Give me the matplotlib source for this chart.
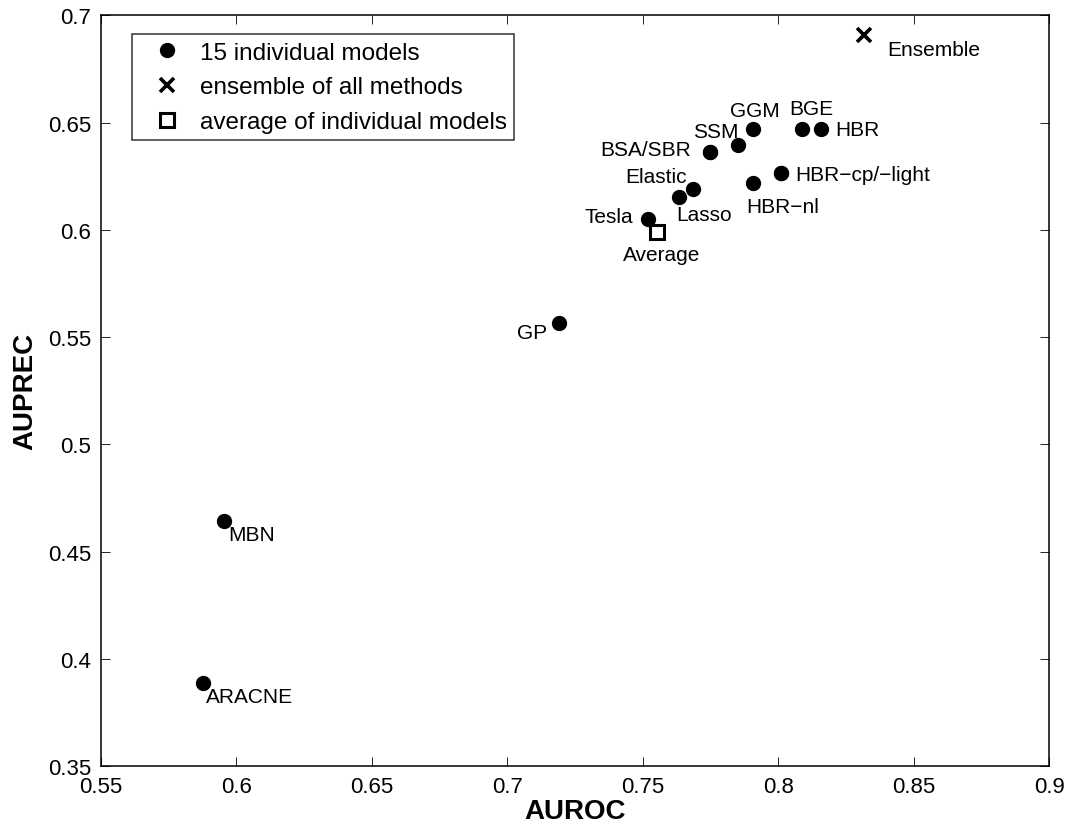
import matplotlib
matplotlib.use("Agg")
import matplotlib.pyplot as plt

plt.rcParams['font.family'] = ['Liberation Sans', 'DejaVu Sans']

# ---- data ----
model_names = ['GGM', 'BGE', 'HBR', 'SSM', 'BSA', 'SBR', 'HBR-cp', 'HBR-light',
               'HBR-nl', 'Elastic', 'Lasso', 'Tesla', 'GP', 'MBN', 'ARACNE']
auroc = [0.7908, 0.8089, 0.8159, 0.7853, 0.7749, 0.7749, 0.8011, 0.8011,
         0.7908, 0.7686, 0.7635, 0.7520, 0.7192, 0.5955, 0.5878]
auprec = [0.6469, 0.6469, 0.6469, 0.6394, 0.6362, 0.6362, 0.6264, 0.6264,
          0.6217, 0.6189, 0.6152, 0.6049, 0.5565, 0.4642, 0.3887]
point_labels = ['GGM', 'BGE', 'HBR', 'SSM', 'BSA/SBR', '', 'HBR\u2212cp/\u2212light', '',
                'HBR\u2212nl', 'Elastic', 'Lasso', 'Tesla', 'GP', 'MBN', 'ARACNE']

ensemble_auroc = [0.8318]
ensemble_auprec = [0.6911]
average_auroc = [0.7553]
average_auprec = [0.5989]

x_ticks = [0.55, 0.6, 0.65, 0.7, 0.75, 0.8, 0.85, 0.9]
x_ticklabels = ['0.55', '0.6', '0.65', '0.7', '0.75', '0.8', '0.85', '0.9']
y_ticks = [0.35, 0.4, 0.45, 0.5, 0.55, 0.6, 0.65, 0.7]
y_ticklabels = ['0.35', '0.4', '0.45', '0.5', '0.55', '0.6', '0.65', '0.7']

# label placement (pixel offsets, screen y downward) and alignment
label_style = {
    'GGM': (2, -19, 'center'),
    'BGE': (9, -21, 'center'),
    'HBR': (14, 0, 'left'),
    'SSM': (0, -14, 'right'),
    'BSA/SBR': (-19, -3, 'right'),
    'HBR\u2212cp/\u2212light': (14, 1, 'left'),
    'HBR\u2212nl': (-7, 23, 'left'),
    'Elastic': (-6, -13, 'right'),
    'Lasso': (-3, 17, 'left'),
    'Tesla': (-15, -3, 'right'),
    'GP': (-12, 9, 'right'),
    'MBN': (4, 13, 'left'),
    'ARACNE': (3, 13, 'left'),
}

fig = plt.figure(figsize=(10.7, 8.29), dpi=100)
ax = fig.add_axes([0.0941, 0.0748, 0.8863, 0.9053])

ax.plot(auroc, auprec, linestyle='none', marker='o', color='black',
        markersize=10, label='15 individual models')
ax.plot(ensemble_auroc, ensemble_auprec, linestyle='none', marker='x', color='black',
        markersize=10, markeredgewidth=2.6, label='ensemble of all methods')
ax.plot(average_auroc, average_auprec, linestyle='none', marker='s', markerfacecolor='white',
        markeredgecolor='black', markersize=10, markeredgewidth=2.2,
        label='average of individual models')

fs_ann = 15
for x, y, lab in zip(auroc, auprec, point_labels):
    if not lab:
        continue
    dx, dy, ha = label_style[lab]
    ax.annotate(lab, (x, y), xytext=(dx, -dy), textcoords='offset pixels',
                ha=ha, va='center', fontsize=fs_ann)
ax.annotate('Ensemble', (ensemble_auroc[0], ensemble_auprec[0]), xytext=(23, -15),
            textcoords='offset pixels', ha='left', va='center', fontsize=fs_ann)
ax.annotate('Average', (average_auroc[0], average_auprec[0]), xytext=(5, -22),
            textcoords='offset pixels', ha='center', va='center', fontsize=fs_ann)

ax.set_xlim(0.55, 0.9)
ax.set_ylim(0.35, 0.7)
ax.set_xticks(x_ticks)
ax.set_xticklabels(x_ticklabels)
ax.set_yticks(y_ticks)
ax.set_yticklabels(y_ticklabels)
ax.tick_params(direction='in', length=6.5, width=0.6, top=True, right=True,
               labelsize=16, pad=7)
for s in ax.spines.values():
    s.set_linewidth(1.1)

ax.set_xlabel('AUROC', fontsize=20, fontweight='bold', labelpad=1)
ax.set_ylabel('AUPREC', fontsize=20, fontweight='bold', labelpad=7)

leg = ax.legend(loc='upper left', bbox_to_anchor=(0.0327, 0.9747), borderaxespad=0,
                fontsize=17.5, frameon=True, fancybox=False, edgecolor='black',
                handlelength=2.3, handletextpad=0.2, labelspacing=0.52,
                borderpad=0.3, numpoints=1)
leg.get_frame().set_linewidth(1.1)

fig.savefig('out.png', dpi=100, facecolor='white')
